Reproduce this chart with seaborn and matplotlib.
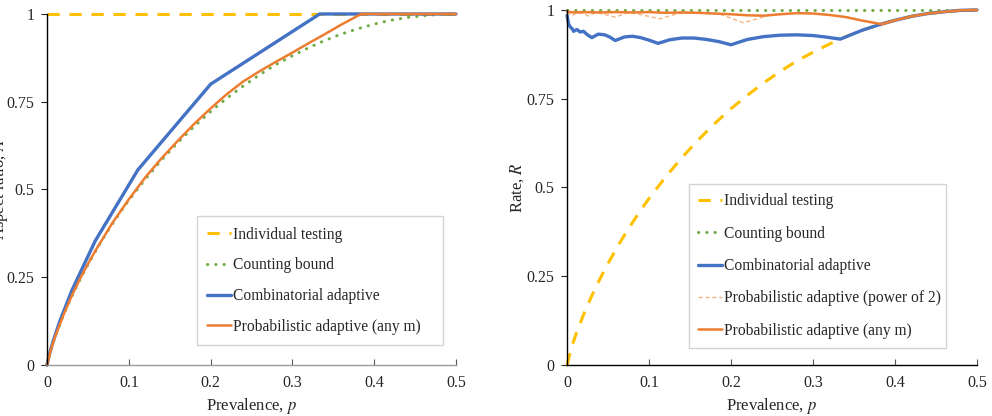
import numpy as np
import pandas as pd
import matplotlib.pyplot as plt
import seaborn as sns

# -- colours (office palette) ------------------------
c_ind = "#FFC000"
c_cnt = "#70AD47"
c_comb = "#4472C4"
c_prob = "#ED7D31"
c_pow2 = "#F4B183"

# -- data --------------------------------------------
# prevalence grid for the smooth curves
p_grid = [0, 0.005, 0.01, 0.02, 0.03, 0.04, 0.05, 0.06, 0.07, 0.08, 0.09, 0.1,
          0.12, 0.14, 0.16, 0.18, 0.2, 0.22, 0.24, 0.26, 0.28, 0.3, 0.32, 0.34,
          0.36, 0.38, 0.4, 0.42, 0.44, 0.46, 0.48, 0.5]
# individual testing rate (right) / counting bound aspect ratio (left)
h_vals = [0, 0.045, 0.081, 0.141, 0.194, 0.242, 0.286, 0.327, 0.366, 0.402,
          0.437, 0.469, 0.529, 0.584, 0.634, 0.680, 0.722, 0.760, 0.795, 0.827,
          0.856, 0.881, 0.904, 0.925, 0.943, 0.958, 0.971, 0.982, 0.990, 0.995,
          0.999, 1.0]

# left panel: aspect ratio A
p_comb_A = [0, 0.0019, 0.0039, 0.0078, 0.0154, 0.0303, 0.0588, 0.1111, 0.2, 0.3333, 0.5]
A_comb = [0, 0.021, 0.039, 0.070, 0.123, 0.212, 0.353, 0.556, 0.800, 1.0, 1.0]

p_prob_A = [0, 0.005, 0.01, 0.02, 0.03, 0.04, 0.05, 0.06, 0.08, 0.1, 0.12, 0.14,
            0.16, 0.18, 0.2, 0.22, 0.24, 0.26, 0.28, 0.3, 0.32, 0.34, 0.36, 0.384,
            0.4, 0.45, 0.5]
A_prob = [0, 0.046, 0.081, 0.142, 0.196, 0.244, 0.288, 0.329, 0.405, 0.472,
          0.534, 0.589, 0.639, 0.687, 0.731, 0.772, 0.808, 0.837, 0.864, 0.890,
          0.917, 0.943, 0.970, 1.0, 1.0, 1.0, 1.0]

# right panel: rate R
p_comb_R = [0, 0.002, 0.004, 0.006, 0.008, 0.012, 0.016, 0.02, 0.025, 0.0303,
            0.038, 0.046, 0.052, 0.0588, 0.07, 0.08, 0.09, 0.1, 0.1111, 0.125,
            0.14, 0.155, 0.17, 0.185, 0.2, 0.22, 0.24, 0.26, 0.28, 0.3, 0.315,
            0.3333, 0.36, 0.38, 0.4, 0.42, 0.44, 0.46, 0.48, 0.5]
R_comb = [0.985, 0.960, 0.952, 0.948, 0.940, 0.945, 0.938, 0.940, 0.930, 0.922,
          0.932, 0.930, 0.924, 0.914, 0.924, 0.926, 0.922, 0.915, 0.906, 0.916,
          0.921, 0.921, 0.917, 0.911, 0.902, 0.917, 0.925, 0.929, 0.930, 0.928,
          0.924, 0.918, 0.943, 0.958, 0.971, 0.982, 0.990, 0.995, 0.999, 1.0]

p_prob_R = [0, 0.01, 0.02, 0.04, 0.06, 0.08, 0.1, 0.12, 0.14, 0.16, 0.18, 0.2,
            0.22, 0.24, 0.26, 0.28, 0.3, 0.32, 0.34, 0.36, 0.384, 0.4, 0.42,
            0.44, 0.46, 0.48, 0.5]
R_prob = [0.995, 0.993, 0.994, 0.993, 0.994, 0.993, 0.994, 0.992, 0.993, 0.992,
          0.990, 0.988, 0.985, 0.984, 0.988, 0.991, 0.990, 0.986, 0.980, 0.970,
          0.960, 0.971, 0.982, 0.990, 0.995, 0.999, 1.0]

p_pow2_R = [0, 0.003, 0.006, 0.012, 0.02, 0.026, 0.035, 0.045, 0.0588, 0.075,
            0.09, 0.113, 0.135, 0.16, 0.187, 0.215, 0.248, 0.28, 0.3, 0.32,
            0.34, 0.36, 0.384, 0.4, 0.42, 0.44, 0.46, 0.48, 0.5]
R_pow2 = [0.995, 0.990, 0.984, 0.993, 0.990, 0.983, 0.993, 0.988, 0.980, 0.993,
          0.987, 0.975, 0.990, 0.992, 0.988, 0.964, 0.986, 0.991, 0.990, 0.986,
          0.980, 0.970, 0.960, 0.971, 0.982, 0.990, 0.995, 0.999, 1.0]

x_ticks = [0, 0.1, 0.2, 0.3, 0.4, 0.5]
x_ticklabels = ["0", "0.1", "0.2", "0.3", "0.4", "0.5"]
y_ticks = [0, 0.25, 0.5, 0.75, 1]
y_ticklabels = ["0", "0.25", "0.5", "0.75", "1"]

# -- style --------------------------------------------
sns.set_style("ticks")
plt.rcParams["font.family"] = ["Liberation Serif", "DejaVu Serif"]
plt.rcParams["mathtext.fontset"] = "stix"

fs = 11.5
fs_leg = 11.2
dash_ind = (4, 3.2)
dot_cnt = (0.1, 2.6)

fig = plt.figure(figsize=(9.92, 4.16), dpi=100)
ax1 = fig.add_axes([0.0474, 0.1226, 0.4123, 0.8438])
ax2 = fig.add_axes([0.5716, 0.1226, 0.4133, 0.8534])

# -- left: aspect ratio -------------------------------
sns.lineplot(x=p_grid, y=[1.0] * len(p_grid), ax=ax1, color=c_ind, lw=2.2,
             linestyle=(0, dash_ind), label="Individual testing", clip_on=False)
sns.lineplot(x=p_grid, y=h_vals, ax=ax1, color=c_cnt, lw=2.2,
             linestyle=(0, dot_cnt), dash_capstyle="round",
             label="Counting bound", clip_on=False)
sns.lineplot(x=p_comb_A, y=A_comb, ax=ax1, color=c_comb, lw=2.4,
             label="Combinatorial adaptive", clip_on=False)
sns.lineplot(x=p_prob_A, y=A_prob, ax=ax1, color=c_prob, lw=1.8,
             label="Probabilistic adaptive (any m)", clip_on=False)

# -- right: rate --------------------------------------
sns.lineplot(x=p_grid, y=h_vals, ax=ax2, color=c_ind, lw=2.2,
             linestyle=(0, dash_ind), label="Individual testing", clip_on=False)
sns.lineplot(x=p_grid, y=[1.0] * len(p_grid), ax=ax2, color=c_cnt, lw=2.2,
             linestyle=(0, dot_cnt), dash_capstyle="round",
             label="Counting bound", clip_on=False)
sns.lineplot(x=p_comb_R, y=R_comb, ax=ax2, color=c_comb, lw=2.4,
             label="Combinatorial adaptive", clip_on=False)
sns.lineplot(x=p_pow2_R, y=R_pow2, ax=ax2, color=c_pow2, lw=1.0,
             linestyle=(0, (3, 2)), label="Probabilistic adaptive (power of 2)",
             clip_on=False)
sns.lineplot(x=p_prob_R, y=R_prob, ax=ax2, color=c_prob, lw=1.8,
             label="Probabilistic adaptive (any m)", clip_on=False)

# -- axes cosmetics -----------------------------------
for ax in (ax1, ax2):
    ax.set_xlim(0, 0.5)
    ax.set_ylim(0, 1)
    ax.set_xticks(x_ticks)
    ax.set_xticklabels(x_ticklabels)
    ax.set_yticks(y_ticks)
    ax.set_yticklabels(y_ticklabels)
    ax.tick_params(axis="x", direction="in", length=4, width=0.8,
                   labelsize=fs, pad=7, color="#555555")
    ax.tick_params(axis="y", direction="out", length=4, width=0.8,
                   labelsize=fs, pad=5)
    sns.despine(ax=ax)
    ax.spines["left"].set_linewidth(1.0)
    ax.spines["left"].set_color("black")
    ax.set_xlabel("Prevalence, $p$", fontsize=fs + 0.5, labelpad=4)

ax1.spines["bottom"].set_color("#9a9a9a")
ax1.spines["bottom"].set_linewidth(1.0)
ax2.spines["bottom"].set_color("black")
ax2.spines["bottom"].set_linewidth(1.0)

ax1.set_ylabel("Aspect ratio, $A$", fontsize=fs + 0.5)
ax1.yaxis.set_label_coords(-0.09, 0.5)
ax2.set_ylabel("Rate, $R$", fontsize=fs + 0.5)
ax2.yaxis.set_label_coords(-0.10, 0.5)

leg_kw = dict(frameon=True, fancybox=False, edgecolor="#c8c8c8",
              fontsize=fs_leg, handlelength=1.55, handletextpad=0.1,
              loc="lower left", borderaxespad=0, mode="expand")
leg1 = ax1.legend(bbox_to_anchor=(0.367, 0.057, 0.601, 0.35),
                  labelspacing=0.95, borderpad=0.65, **leg_kw)
leg2 = ax2.legend(bbox_to_anchor=(0.297, 0.048, 0.627, 0.45),
                  labelspacing=1.05, borderpad=0.6, **leg_kw)
for leg in (leg1, leg2):
    leg.get_frame().set_linewidth(1.0)

fig.savefig("out.png", dpi=100)
